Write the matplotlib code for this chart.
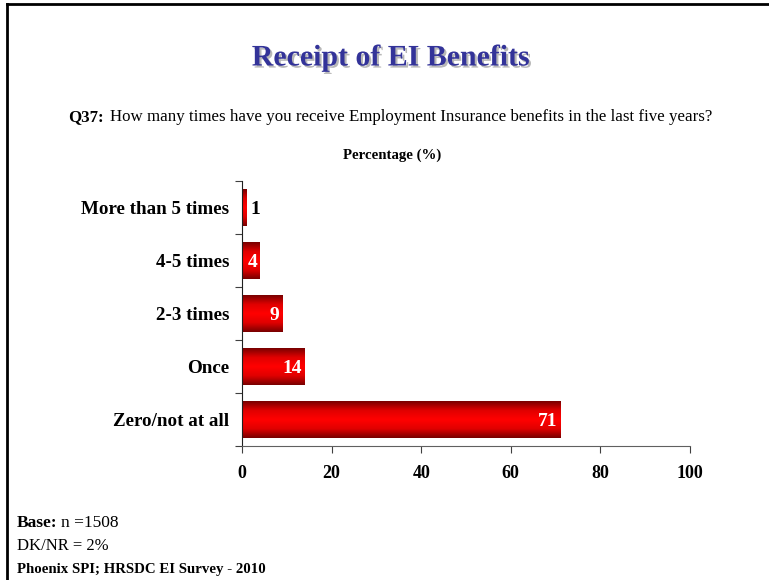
import numpy as np
import matplotlib
matplotlib.use("Agg")
import matplotlib.pyplot as plt
import matplotlib.patheffects as pe
from matplotlib.colors import LinearSegmentedColormap

categories = ["Zero/not at all", "Once", "2-3 times", "4-5 times", "More than 5 times"]
values = [71, 14, 9, 4, 1]
xticks = [0, 20, 40, 60, 80, 100]

plt.rcParams["font.family"] = ["Liberation Serif", "DejaVu Serif"]

W, H = 769, 580
fig = plt.figure(figsize=(W / 100, H / 100), dpi=100)
fig.patch.set_facecolor("white")

# Slide frame (top and left edges)
fig.add_artist(plt.Line2D([7 / W, 1], [1 - 4 / H, 1 - 4 / H], color="black", lw=2))
fig.add_artist(plt.Line2D([7 / W, 7 / W], [0, 1 - 4 / H], color="black", lw=2))

ax = fig.add_axes([242 / W, 134 / H, 448 / W, 265 / H])

bar_h = 0.68
grad = np.abs(np.linspace(-1, 1, 64))[:, None]
cmap = LinearSegmentedColormap.from_list("redgrad", ["#ff0000", "#e00000", "#7a0000"])
ypos = np.arange(len(categories))
for y, v in zip(ypos, values):
    ax.imshow(grad, cmap=cmap, aspect="auto", extent=[0, v, y - bar_h / 2, y + bar_h / 2],
              origin="lower", interpolation="bilinear", zorder=2)
    if v >= 3:
        ax.text(v - 0.6, y - 0.03, str(v), ha="right", va="center", color="white",
                fontsize=14, fontweight="bold", zorder=3)
    else:
        ax.text(v + 0.8, y - 0.03, str(v), ha="left", va="center", color="black",
                fontsize=14, fontweight="bold", zorder=3)

ax.set_xlim(0, 100)
ax.set_ylim(-0.5, len(categories) - 0.5)
ax.set_xticks(xticks)
ax.set_xticklabels([str(t) for t in xticks], fontsize=13, fontweight="bold")
ax.set_yticks(np.arange(-0.5, len(categories), 1.0))
ax.set_yticklabels([])
ax.set_yticks(ypos, minor=True)
ax.set_yticklabels(categories, minor=True, fontsize=13.7, fontweight="bold")
ax.tick_params(axis="y", which="minor", length=0, pad=9)
ax.tick_params(axis="y", which="major", length=5, direction="out", color="#404040")
ax.tick_params(axis="x", length=5, direction="out", pad=9, color="#404040")
for s in ["top", "right"]:
    ax.spines[s].set_visible(False)
ax.spines["left"].set_color("#202020")
ax.spines["bottom"].set_color("#606060")

# Title with a soft grey drop shadow
fig.text(391 / W, 1 - 58 / H, "Receipt of EI Benefits", ha="center", va="center",
         fontsize=21.5, fontweight="bold", color="#333399",
         path_effects=[pe.SimplePatchShadow(offset=(1.5, -1.5), shadow_rgbFace="#b8b8b8", alpha=1.0),
                       pe.Normal()])

fig.text(68 / W, 1 - 117 / H, "Q37:", ha="left", va="center", fontsize=12.2, fontweight="bold")
fig.text(110 / W, 1 - 117 / H,
         "How many times have you receive Employment Insurance benefits in the last five years?",
         ha="left", va="center", fontsize=12.2)
fig.text(392 / W, 1 - 155 / H, "Percentage (%)", ha="center", va="center",
         fontsize=10.7, fontweight="bold")

fig.text(17 / W, 1 - 523 / H, "Base:", ha="left", va="center", fontsize=12.5, fontweight="bold")
fig.text(61 / W, 1 - 523 / H, "n =1508", ha="left", va="center", fontsize=12.5)
fig.text(17 / W, 1 - 546 / H, "DK/NR = 2%", ha="left", va="center", fontsize=12)
fig.text(17 / W, 1 - 570 / H, "Phoenix SPI; HRSDC EI Survey - 2010", ha="left", va="center",
         fontsize=10.7, fontweight="bold")

fig.savefig("out.png", dpi=100)
